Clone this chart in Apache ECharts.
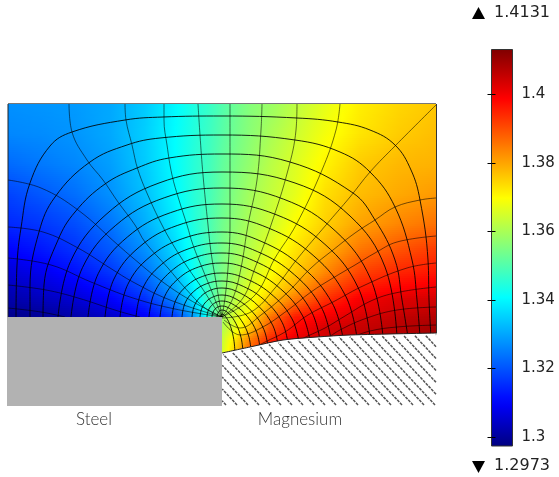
<!DOCTYPE html>
<html><head><meta charset="utf-8">
<style>html,body{margin:0;padding:0;background:#fff}#c{width:559px;height:477px}</style>
<script src="https://cdn.jsdelivr.net/npm/echarts@6/dist/echarts.min.js"></script>
</head><body><div id="c"></div>
<script>
// Field samples (values on the colour scale)
const xNodes = [8,40,75,110,145,175,195,210,222,235,250,270,295,325,360,400,437];
const yNodes = [104,134,164,194,224,250,272,288,300,310,317,328,340,353];
const fieldRows = [
[1.3274,1.3280,1.3286,1.3303,1.3344,1.3401,1.3442,1.3471,1.3500,1.3529,1.3558,1.3581,1.3621,1.3668,1.3714,1.3743,1.3760],
[1.3263,1.3268,1.3280,1.3303,1.3349,1.3407,1.3448,1.3477,1.3506,1.3535,1.3564,1.3598,1.3639,1.3685,1.3726,1.3755,1.3772],
[1.3228,1.3245,1.3263,1.3291,1.3344,1.3407,1.3454,1.3483,1.3517,1.3546,1.3575,1.3616,1.3656,1.3708,1.3755,1.3778,1.3784],
[1.3181,1.3205,1.3234,1.3274,1.3332,1.3401,1.3454,1.3488,1.3523,1.3558,1.3593,1.3627,1.3668,1.3732,1.3772,1.3795,1.3813],
[1.3147,1.3164,1.3193,1.3239,1.3309,1.3384,1.3448,1.3494,1.3535,1.3569,1.3604,1.3639,1.3697,1.3749,1.3801,1.3836,1.3859],
[1.3100,1.3124,1.3158,1.3205,1.3274,1.3361,1.3436,1.3494,1.3540,1.3581,1.3616,1.3668,1.3726,1.3784,1.3853,1.3894,1.3923],
[1.3060,1.3083,1.3118,1.3164,1.3234,1.3332,1.3425,1.3494,1.3546,1.3587,1.3639,1.3691,1.3755,1.3830,1.3911,1.3946,1.3963],
[1.3031,1.3054,1.3083,1.3124,1.3193,1.3297,1.3401,1.3488,1.3552,1.3610,1.3662,1.3720,1.3795,1.3888,1.3957,1.3986,1.4004],
[1.3014,1.3031,1.3054,1.3095,1.3152,1.3257,1.3378,1.3483,1.3564,1.3621,1.3679,1.3760,1.3853,1.3934,1.3998,1.4027,1.4038],
[1.2996,1.3008,1.3031,1.3066,1.3118,1.3210,1.3338,1.3471,1.3575,1.3639,1.3691,1.3807,1.3911,1.3975,1.4015,1.4038,1.4056],
[1.2985,1.2996,1.3014,1.3042,1.3089,1.3170,1.3297,1.3448,1.3587,1.3656,1.3726,1.3853,1.3957,1.3998,1.4033,1.4056,1.4073],
[1.3610,1.3668,1.3760,1.3888,1.3980,1.4033,1.4050,1.4067,1.4090],
[1.3633,1.3726,1.3842,1.3946,1.4015,1.4038,1.4062,1.4079,1.4096],
[1.3645,1.3760,1.3888,1.3980,1.4027,1.4062,1.4079,1.4096,1.4108]
];
const scaleMin = 1.2973, scaleMax = 1.4131;
const scaleTicks = [1.3,1.32,1.34,1.36,1.38,1.4];
const jetStops = [[0,[0,0,127]],[0.11,[0,0,255]],[0.375,[0,255,255]],[0.625,[255,255,0]],[0.875,[255,0,0]],[1,[127,0,0]]];

// Mesh lines
const arcLines = [
[[16,317],[17,265],[21,228],[30,183],[50,146],[72,132],[125,120],[163,117],[222,116],[297,118],[338,122],[370,130],[395,145],[411,170],[420,200],[428,260],[429,300],[431,337]],
[[30,317],[30,287],[39,232],[55,197],[90,162],[127,145],[160,138],[222,135],[295,140],[340,152],[370,172],[395,207],[412,260],[417,300],[420,337]],
[[43,317],[44,285],[58,240],[75,212],[105,184],[137,168],[169,158],[222,154],[290,162],[353,193],[375,220],[395,260],[402,300],[408,337]],
[[58,317],[70.5,261.5],[106,214.5],[159,183],[222,172],[295,183],[350,216],[385,267],[397,337]],
[[71,317],[82.5,267.6],[115.2,225.8],[164.2,197.8],[222,188],[283.7,199.2],[335.8,231.4],[370.8,279.3],[383,337]],
[[88,317],[98.2,273.7],[127.3,237.1],[170.7,212.6],[222,204],[276,214.6],[324.9,244.3],[358.2,287.8],[370,337]],
[[105,317],[113.9,279.1],[139.3,247],[177.2,225.5],[222,218],[268.4,228],[313.9,256],[345.7,296.1],[357,338]],
[[120,317],[127.8,284.4],[149.9,256.9],[182.9,238.5],[222,232],[261.1,241.3],[302.5,267.2],[332.2,303.1],[343,338]],
[[136,317],[142.5,288.7],[161.2,264.7],[189.1,248.6],[222,243],[257.2,251.5],[294.5,274.8],[321.3,307.3],[331,339]],
[[149,317],[154.5,292.5],[170.4,271.8],[194,257.9],[222,253],[253.7,260.7],[287.2,281.8],[311.3,311.2],[320,340]],
[[160,317],[164.7,296.3],[178.2,278.8],[198.3,267.1],[222,263],[250.4,269.9],[280.5,288.8],[302.2,315.1],[310,341]],
[[172,317],[175.8,300.1],[186.6,285.9],[202.8,276.3],[222,273],[246.9,279.1],[273.2,295.8],[292.1,319],[299,342]],
[[182,317],[185,303.2],[193.7,291.5],[206.7,283.7],[222,281],[243.3,286.4],[265.9,301.4],[282.1,322.3],[288,343]],
[[192,317],[194.3,305.9],[200.8,296.5],[210.5,290.2],[222,288],[240.1,293],[259.2,306.8],[273,325.9],[278,345]],
[[200,317],[201.7,308.6],[206.4,301.4],[213.6,296.7],[222,295],[236.9,299.5],[252.6,312.1],[263.9,329.5],[268,347]],
[[207,317],[208.1,310.9],[211.4,305.7],[216.3,302.2],[222,301],[234.3,305.1],[247.3,316.4],[256.6,332.1],[260,348]],
[[212,317],[212.8,312.8],[214.9,309.2],[218.2,306.8],[222,306],[231.4,309.8],[241.3,320.4],[248.4,335.1],[251,350]],
[[217,317],[218.5,312],[222,310],[228.8,313.6],[236,323.7],[241.1,337.8],[243,352]],
[[220,317],[221,315],[222,314],[226.2,317.4],[230.6,326.7],[233.8,339.7],[235,353]]
];
const radialLines = [
[[8,180],[41,188],[78,210],[118,245],[133,258],[160,280],[190,300],[222,317]],
[[8,227],[43,232],[78,248],[110,268],[133,282],[170,300],[222,317]],
[[8,258],[51,265],[91,282],[133,298],[175,309],[222,317]],
[[8,285],[46,290],[78,298],[118,311],[140,317]],
[[8,308],[41,312],[65,317]],
[[69,104],[72,132],[87,160],[103,180],[118,202],[135,225],[145,242],[168,268],[185,288],[205,308],[222,317]],
[[125,104],[126,120],[132,145],[138,170],[150,200],[162,225],[172,243],[188,268],[202,288],[215,308],[222,317]],
[[164,104],[164,120],[167,145],[172,175],[179,200],[187,225],[193,245],[203,270],[212,292],[222,317]],
[[198,104],[200,135],[203,175],[208,225],[211,252],[216,282],[222,317]],
[[230,104],[230,150],[230,225],[228,268],[225,298],[222,317]],
[[262,104],[261,130],[257,180],[248,225],[241,268],[233,298],[222,317]],
[[297,104],[296,130],[288,170],[271,225],[255,268],[243,298],[222,317]],
[[340,104],[336,130],[322,170],[296,225],[275,258],[255,295],[222,317]],
[[436,105],[395,146],[370,172],[350,197],[326,225],[298,258],[275,288],[251,312],[222,318]],
[[436,198],[420,200],[395,207],[375,220],[355,233],[333,250],[311,268],[288,292],[261,315],[240,328],[224,320]],
[[436,236],[397,242],[375,253],[355,265],[333,278],[311,292],[288,310],[261,328],[240,335],[223,322]],
[[436,263],[407,268],[365,285],[333,302],[308,315],[285,332],[265,342],[250,350]],
[[436,287],[400,292],[373,300],[345,316],[325,328],[300,340],[295,345]],
[[436,307],[397,310],[367,318],[340,330],[325,340]],
[[436,325],[397,327],[370,331],[350,338]]
];

// Regions and text
const magnesiumCurve = [[222,353],[250,347],[283,340],[317,337],[350,335],[437,333]];
const magnesiumBase = [[437,406],[222,406]];
const steelOutline = [[7,317],[222,317],[222,406],[7,406]];
const hatchBottomX = [226,237,248,259,270,281,292,303,314,325,336,347,358,369,380,391,402,413,424,435,446,457,468,479,490,501,512];
const hatchSlope = 1.08, hatchBottom = 405, hatchRight = 436, hatchLeft = 222;
const regionNames = ['Steel','Magnesium'];
const regionNameX = [94,300];
const regionNameY = [420,420];
const frameLeft = [[8,104],[8,317]], frameRight = [[436.5,104],[436.5,333]], frameTop = [[8,103.5],[436,103.5]];
const scaleTopMark = [[472,19],[485,19],[478.5,7]], scaleBottomMark = [[472,461],[485,461],[478.5,473]];

function jet(v){
  const t = Math.max(0,Math.min(1,(v-scaleMin)/(scaleMax-scaleMin)));
  for(let i=1;i<jetStops.length;i++){
    if(t<=jetStops[i][0]){
      const a=jetStops[i-1],b=jetStops[i],f=(t-a[0])/(b[0]-a[0]);
      const c=a[1].map((q,k)=>Math.round(q+(b[1][k]-q)*f));
      return 'rgb('+c.join(',')+')';
    }
  }
  return 'rgb(127,0,0)';
}
function curveY(x){
  for(let i=1;i<magnesiumCurve.length;i++){
    const a=magnesiumCurve[i-1],b=magnesiumCurve[i];
    if(x<=b[0]) return a[1]+(b[1]-a[1])*(x-a[0])/(b[0]-a[0]);
  }
  return magnesiumCurve[magnesiumCurve.length-1][1];
}

// Cells of the field, one per four neighbouring samples
const paddedRows = fieldRows.map(r=>new Array(xNodes.length-r.length).fill(null).concat(r));
const cells = [];
for(let j=0;j<yNodes.length-1;j++){
  for(let i=0;i<xNodes.length-1;i++){
    const a=paddedRows[j][i],b=paddedRows[j][i+1],c=paddedRows[j+1][i],d=paddedRows[j+1][i+1];
    if(a==null||b==null||c==null||d==null) continue;
    cells.push([xNodes[i],xNodes[i+1],yNodes[j],yNodes[j+1],a,b,c,d]);
  }
}
function renderCell(p,api){
  const x0=api.value(0),x1=api.value(1),y0=api.value(2),y1=api.value(3);
  const a=api.value(4),b=api.value(5),c=api.value(6),d=api.value(7);
  const tl=api.coord([x0,y0]),br=api.coord([x1,y1]);
  const left=Math.round(tl[0]),right=Math.round(br[0]),top=Math.round(tl[1]),bot=Math.round(br[1]);
  const children=[];
  for(let sy=top;sy<bot;sy+=2){
    const h=Math.min(2,bot-sy), f=(sy+h/2-top)/(bot-top);
    const vl=a+(c-a)*f, vr=b+(d-b)*f, stops=[];
    for(let k=0;k<=6;k++) stops.push({offset:k/6,color:jet(vl+(vr-vl)*k/6)});
    children.push({type:'rect',shape:{x:left,y:sy,width:right-left,height:h},
      style:{fill:{type:'linear',x:0,y:0,x2:1,y2:0,colorStops:stops}},silent:true});
  }
  return {type:'group',children};
}
function polygonSeries(points,fill,z){
  return {type:'custom',xAxisIndex:0,yAxisIndex:0,z,silent:true,clip:false,data:[[points[0][0],points[0][1]]],
    renderItem:(p,api)=>({type:'polygon',shape:{points:points.map(q=>api.coord(q))},style:{fill}})};
}
function renderHatch(p,api){
  const xb=api.value(0);
  let y0=hatchBottom,x0=xb;
  if(x0>hatchRight){y0=hatchBottom-(x0-hatchRight)*hatchSlope;x0=hatchRight;}
  let y1=y0,x1=x0;
  while(true){
    const ny=y1-0.25,nx=x1-0.25/hatchSlope;
    if(nx<hatchLeft||ny<curveY(nx)+1.5) break;
    y1=ny;x1=nx;
  }
  const s=api.coord([x0,y0]),e=api.coord([x1,y1]);
  return {type:'line',shape:{x1:s[0],y1:s[1],x2:e[0],y2:e[1]},style:{stroke:'#555',lineWidth:1.5,lineDash:[3,1]}};
}
function meshSeries(pts,color,w,z){
  return {type:'line',xAxisIndex:0,yAxisIndex:0,data:pts,smooth:0.4,symbol:'none',z,silent:true,clip:true,
    lineStyle:{color,width:w}};
}
const barStops=[];
for(let k=0;k<=40;k++){barStops.push({offset:k/40,color:jet(scaleMax-(scaleMax-scaleMin)*k/40)});}

const series=[
  {type:'custom',xAxisIndex:0,yAxisIndex:0,z:1,silent:true,clip:false,progressive:0,
   encode:{x:[0,1],y:[2,3]},data:cells,renderItem:renderCell},
  ...arcLines.map(a=>meshSeries(a,'rgba(0,0,0,0.85)',1,2)),
  ...radialLines.map(a=>meshSeries(a,'rgba(0,0,0,0.55)',1,2)),
  polygonSeries(magnesiumCurve.concat(magnesiumBase),'#ffffff',3),
  {type:'custom',xAxisIndex:0,yAxisIndex:0,z:4,silent:true,clip:false,data:hatchBottomX.map(v=>[v]),renderItem:renderHatch},
  polygonSeries(steelOutline,'#b2b2b2',5),
  polygonSeries(scaleTopMark,'#000',5),
  polygonSeries(scaleBottomMark,'#000',5),
  {type:'line',xAxisIndex:0,yAxisIndex:0,data:magnesiumCurve,smooth:0.3,symbol:'none',z:6,silent:true,lineStyle:{color:'#222',width:1}},
  {type:'line',xAxisIndex:0,yAxisIndex:0,data:frameLeft,symbol:'none',z:6,silent:true,lineStyle:{color:'#222',width:1}},
  {type:'line',xAxisIndex:0,yAxisIndex:0,data:frameRight,symbol:'none',z:6,silent:true,lineStyle:{color:'#333',width:1}},
  {type:'line',xAxisIndex:0,yAxisIndex:0,data:frameTop,symbol:'none',z:6,silent:true,lineStyle:{color:'#777',width:1}},
  {type:'custom',xAxisIndex:0,yAxisIndex:0,z:7,silent:true,clip:false,
   data:regionNames.map((n,i)=>[regionNameX[i],regionNameY[i],n]),
   renderItem:(p,api)=>{const c=api.coord([api.value(0),api.value(1)]);
     return {type:'text',x:c[0],y:c[1],style:{text:regionNames[p.dataIndex],fill:'#333',align:'center',verticalAlign:'middle',
       font:'300 17px Lato, "Open Sans", sans-serif'}};}},
  {type:'custom',xAxisIndex:1,yAxisIndex:1,z:2,silent:true,clip:false,data:[[0,scaleMin,1,scaleMax]],
   encode:{x:[0,2],y:[1,3]},
   renderItem:(p,api)=>{const a=api.coord([api.value(0),api.value(3)]),b=api.coord([api.value(2),api.value(1)]);
     return {type:'rect',shape:{x:a[0],y:a[1],width:b[0]-a[0],height:b[1]-a[1]},
       style:{fill:{type:'linear',x:0,y:0,x2:0,y2:1,colorStops:barStops},stroke:'#333',lineWidth:1}};}}
];
const tickStyle={show:true,inside:true,length:4,customValues:scaleTicks,lineStyle:{color:'#000',width:1}};
const option={
  animation:false,backgroundColor:'#fff',
  grid:[{left:0,right:0,top:0,bottom:0},{left:491.5,top:49.5,width:21,height:396.5}],
  xAxis:[{type:'value',min:0,max:559,show:false,gridIndex:0},{type:'value',min:0,max:1,show:false,gridIndex:1}],
  yAxis:[
    {type:'value',min:0,max:477,inverse:true,show:false,gridIndex:0},
    {type:'value',min:scaleMin,max:scaleMax,gridIndex:1,position:'right',z:5,axisLine:{show:false},splitLine:{show:false},
     axisTick:tickStyle,
     axisLabel:{show:true,customValues:scaleTicks,margin:9,color:'#222',fontFamily:'DejaVu Sans',fontSize:15,formatter:v=>String(v)}},
    {type:'value',min:scaleMin,max:scaleMax,gridIndex:1,position:'left',z:5,axisLine:{show:false},splitLine:{show:false},
     axisTick:tickStyle,axisLabel:{show:false}}
  ],
  graphic:[
    {type:'text',left:494,top:5,style:{text:scaleMax.toFixed(4),fill:'#222',font:'16px "DejaVu Sans"'}},
    {type:'text',left:494,top:458,style:{text:scaleMin.toFixed(4),fill:'#222',font:'16px "DejaVu Sans"'}}
  ],
  series
};
const chart=echarts.init(document.getElementById('c'),null,{renderer:'canvas'});
chart.setOption(option);
</script></body></html>
